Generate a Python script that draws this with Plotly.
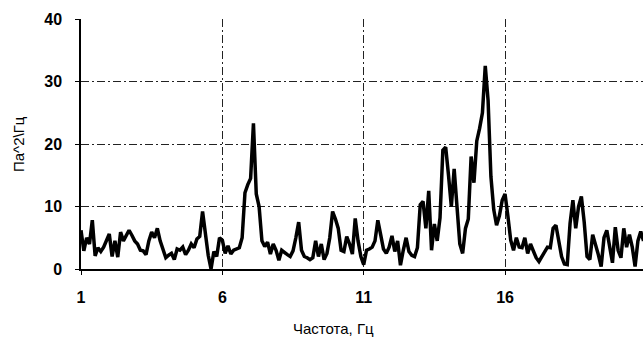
import plotly.graph_objects as go

freq = [round(1.0 + 0.1 * i, 1) for i in range(200)]

psd = [
    6.2, 2.9, 5.0, 4.0, 7.8, 2.1, 3.4, 2.8, 3.5, 4.5,   # 1.0-1.9
    5.6, 2.0, 4.5, 1.9, 5.9, 4.5, 5.3, 6.2, 5.4, 4.5,   # 2.0-2.9
    4.0, 3.0, 2.9, 2.3, 4.5, 5.9, 5.0, 6.5, 4.5, 3.0,   # 3.0-3.9
    1.8, 2.2, 2.5, 1.5, 3.2, 3.0, 3.5, 2.3, 3.0, 4.0,   # 4.0-4.9
    3.4, 4.8, 5.2, 9.2, 5.5, 2.2, 0.0, 2.8, 2.0, 5.0,   # 5.0-5.9
    4.6, 2.5, 3.7, 2.4, 3.0, 3.2, 3.4, 5.0, 12.2, 13.5, # 6.0-6.9
    14.5, 23.3, 12.0, 10.0, 4.5, 3.6, 4.3, 2.4, 4.0, 3.0,  # 7.0-7.9
    1.4, 3.0, 2.6, 2.3, 2.0, 2.9, 5.0, 7.5, 3.0, 2.0,   # 8.0-8.9
    1.8, 1.5, 1.8, 4.5, 2.0, 4.0, 1.5, 2.5, 5.0, 9.2,   # 9.0-9.9
    8.0, 6.5, 3.0, 2.8, 5.2, 4.0, 2.4, 8.1, 4.5, 2.0,   # 10.0-10.9
    0.7, 3.0, 3.2, 3.5, 4.5, 7.8, 5.5, 3.2, 2.5, 3.5,   # 11.0-11.9
    5.3, 2.8, 4.5, 0.6, 3.0, 5.0, 2.8, 2.2, 2.0, 3.4,   # 12.0-12.9
    10.3, 10.8, 6.5, 12.5, 3.0, 7.2, 4.5, 8.2, 19.0, 19.5,  # 13.0-13.9
    15.0, 10.0, 16.0, 9.0, 4.0, 2.5, 6.5, 8.0, 18.0, 13.8,  # 14.0-14.9
    20.5, 22.5, 25.0, 32.5, 27.0, 14.8, 9.5, 7.0, 8.5, 11.0,  # 15.0-15.9
    12.0, 8.5, 4.6, 3.0, 5.0, 3.5, 3.4, 5.0, 2.5, 4.0,  # 16.0-16.9
    2.8, 1.8, 1.2, 2.0, 2.7, 3.5, 3.4, 6.5, 7.0, 4.5,   # 17.0-17.9
    2.0, 0.8, 0.7, 7.3, 11.0, 6.5, 10.0, 11.6, 7.5, 2.0,  # 18.0-18.9
    1.5, 5.5, 4.0, 2.3, 0.4, 5.0, 6.2, 3.5, 1.0, 6.7,   # 19.0-19.9
    3.0, 1.8, 6.5, 3.5, 5.5, 3.5, 0.4, 4.5, 6.0, 4.5,   # 20.0-20.9
]

x_ticks = [1, 6, 11, 16]
y_ticks = [0, 10, 20, 30, 40]

W, H = 643, 347
L, T, B, R = 81, 19, 78, 0

fig = go.Figure()
fig.add_trace(go.Scatter(
    x=freq, y=psd, mode="lines",
    line=dict(color="black", width=3.5),
    hoverinfo="skip", showlegend=False,
))

font = dict(family="Liberation Sans, Arial, sans-serif", size=16, color="black")

fig.update_layout(
    width=W, height=H,
    margin=dict(l=L, r=R, t=T, b=B, pad=0),
    paper_bgcolor="white", plot_bgcolor="white",
    font=font,
    xaxis=dict(
        range=[1, 20.88], tickvals=x_ticks, ticktext=[f"<b>{v}</b>" for v in x_ticks],
        showgrid=True, gridcolor="#222", gridwidth=1, griddash="8px,3px,2px,3px",
        showline=True, linecolor="black", linewidth=1.5,
        ticks="outside", ticklen=4, tickcolor="black",
        zeroline=False, ticklabelstandoff=9,
    ),
    yaxis=dict(
        range=[0, 40], tickvals=y_ticks, ticktext=[f"<b>{v}</b>" for v in y_ticks],
        showgrid=True, gridcolor="#222", gridwidth=1, griddash="8px,3px,2px,3px",
        showline=True, linecolor="black", linewidth=1.5,
        ticks="outside", ticklen=4, tickcolor="black",
        zeroline=False, ticklabelstandoff=10,
    ),
    annotations=[
        dict(text="Частота, Гц", xref="paper", yref="paper",
             x=(333 - L) / (W - L), y=-(328 - (H - B)) / (H - B - T),
             xanchor="center", yanchor="middle", showarrow=False,
             font=dict(family="Liberation Sans, Arial, sans-serif", size=15, color="black")),
        dict(text="Па^2\\Гц", xref="paper", yref="paper",
             x=(18 - L) / (W - L), y=0.5, textangle=-90,
             xanchor="center", yanchor="middle", showarrow=False,
             font=dict(family="Liberation Sans, Arial, sans-serif", size=15, color="black")),
    ],
)

fig.write_html("out.html")
